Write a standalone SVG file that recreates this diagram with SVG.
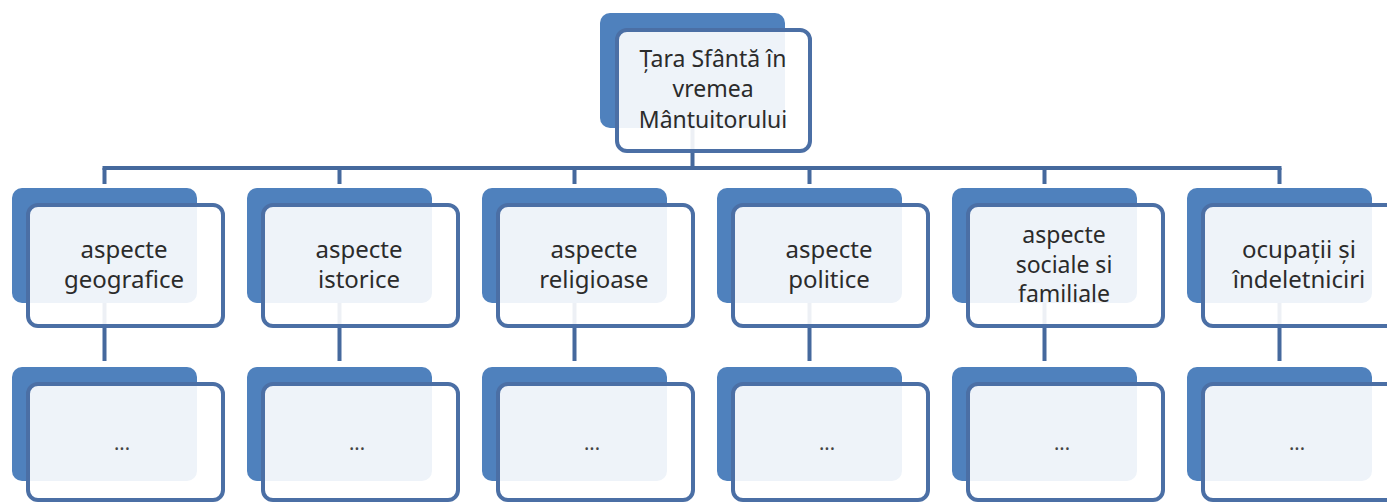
<svg xmlns="http://www.w3.org/2000/svg" width="1387" height="503" viewBox="0 0 1387 503">
<style>
.back{fill:#4f81bd}
.front{fill:#ffffff;fill-opacity:0.9;stroke:#4b6fa5;stroke-width:4}
.conn{stroke:#45699d;stroke-width:4;fill:none}
.t{font-family:"Noto Sans","Open Sans",sans-serif;font-size:24px;fill:#2b2b2b;text-anchor:middle}
.s{font-size:23px}
.d{font-family:"Noto Sans","Open Sans",sans-serif;font-size:20px;fill:#444444;text-anchor:middle}
</style>
<rect width="1387" height="503" fill="#ffffff"/>
<g id="connectors">
<path class="conn" d="M692.5 128V168"/>
<path class="conn" d="M104.5 170V168H1279.5V170"/>
<path class="conn" d="M104.5 168V184M339.5 168V184M574.5 168V184M809.5 168V184M1044.5 168V184M1279.5 168V184"/>
<path class="conn" d="M104.5 303V361M339.5 303V361M574.5 303V361M809.5 303V361M1044.5 303V361M1279.5 303V361"/>
</g>
<g id="root">
<rect class="back" x="600" y="13" width="185" height="115" rx="10"/>
<rect class="front" x="617" y="30" width="193" height="121" rx="10"/>
<text class="t s" x="713" y="67">Țara Sfântă în</text>
<text class="t s" x="713" y="97">vremea</text>
<text class="t s" x="713" y="128">Mântuitorului</text>
</g>
<g id="n1">
<rect class="back" x="12" y="188" width="185" height="115" rx="10"/>
<rect class="front" x="28" y="205" width="195" height="121" rx="10"/>
<text class="t" x="124" y="258">aspecte</text>
<text class="t" x="124" y="288">geografice</text>
</g>
<g id="n2">
<rect class="back" x="247" y="188" width="185" height="115" rx="10"/>
<rect class="front" x="263" y="205" width="195" height="121" rx="10"/>
<text class="t" x="359" y="258">aspecte</text>
<text class="t" x="359" y="288">istorice</text>
</g>
<g id="n3">
<rect class="back" x="482" y="188" width="185" height="115" rx="10"/>
<rect class="front" x="498" y="205" width="195" height="121" rx="10"/>
<text class="t" x="594" y="258">aspecte</text>
<text class="t" x="594" y="288">religioase</text>
</g>
<g id="n4">
<rect class="back" x="717" y="188" width="185" height="115" rx="10"/>
<rect class="front" x="733" y="205" width="195" height="121" rx="10"/>
<text class="t" x="829" y="258">aspecte</text>
<text class="t" x="829" y="288">politice</text>
</g>
<g id="n5">
<rect class="back" x="952" y="188" width="185" height="115" rx="10"/>
<rect class="front" x="968" y="205" width="195" height="121" rx="10"/>
<text class="t s" x="1064" y="243">aspecte</text>
<text class="t s" x="1064" y="273">sociale si</text>
<text class="t s" x="1064" y="302">familiale</text>
</g>
<g id="n6">
<rect class="back" x="1187" y="188" width="185" height="115" rx="10"/>
<rect class="front" x="1203" y="205" width="195" height="121" rx="10"/>
<text class="t" x="1299" y="258">ocupații și</text>
<text class="t" x="1299" y="288">îndeletniciri</text>
</g>
<g id="m1">
<rect class="back" x="12" y="367" width="185" height="114" rx="10"/>
<rect class="front" x="28" y="384" width="195" height="116" rx="10"/>
<text class="d" x="122" y="450">...</text>
</g>
<g id="m2">
<rect class="back" x="247" y="367" width="185" height="114" rx="10"/>
<rect class="front" x="263" y="384" width="195" height="116" rx="10"/>
<text class="d" x="357" y="450">...</text>
</g>
<g id="m3">
<rect class="back" x="482" y="367" width="185" height="114" rx="10"/>
<rect class="front" x="498" y="384" width="195" height="116" rx="10"/>
<text class="d" x="592" y="450">...</text>
</g>
<g id="m4">
<rect class="back" x="717" y="367" width="185" height="114" rx="10"/>
<rect class="front" x="733" y="384" width="195" height="116" rx="10"/>
<text class="d" x="827" y="450">...</text>
</g>
<g id="m5">
<rect class="back" x="952" y="367" width="185" height="114" rx="10"/>
<rect class="front" x="968" y="384" width="195" height="116" rx="10"/>
<text class="d" x="1062" y="450">...</text>
</g>
<g id="m6">
<rect class="back" x="1187" y="367" width="185" height="114" rx="10"/>
<rect class="front" x="1203" y="384" width="195" height="116" rx="10"/>
<text class="d" x="1297" y="450">...</text>
</g>
</svg>
